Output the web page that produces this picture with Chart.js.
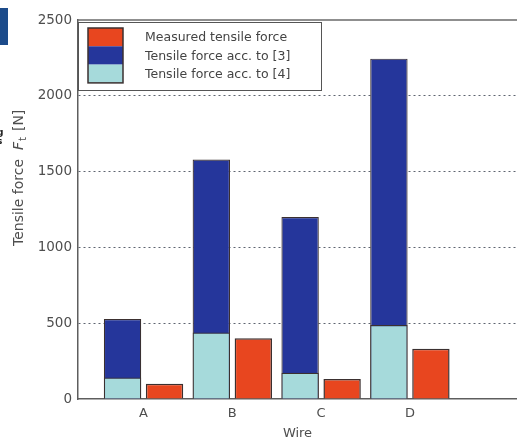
<!DOCTYPE html>
<html>
<head>
<meta charset="utf-8">
<script src="https://cdn.jsdelivr.net/npm/chart.js@4"></script>
<style>
  html, body { margin: 0; padding: 0; background: #ffffff; overflow: hidden; }
  #wrap { position: relative; width: 517px; height: 438px; }
  #tab { position: absolute; left: 0; top: 8px; width: 8px; height: 37px; background: #1c4b8a; }
  #edge { position: absolute; left: -3px; top: 128px; font: bold 9px "DejaVu Sans", sans-serif; line-height: 9px; color: #222; }
  canvas { position: absolute; left: 0; top: 0; }
</style>
</head>
<body>
<div id="wrap">
  <canvas id="c" width="517" height="438"></canvas>
  <div id="tab"></div>
  <div id="edge">g<br>s</div>
</div>
<script>
// Wires and their positions along the x axis
const wires = ['A', 'B', 'C', 'D'];
const wirePos = [1, 2, 3, 4];

// Tensile forces in N
const measured = [100, 400, 132, 332];
const accRef3 = [527, 1580, 1200, 2245];
const accRef4 = [142, 438, 173, 488];

// Y axis ticks
const yTicks = [0, 500, 1000, 1500, 2000, 2500];

const seriesNames = ['Measured tensile force', 'Tensile force acc. to [3]', 'Tensile force acc. to [4]'];
const seriesColors = ['#e8461f', '#25369b', '#a6dadb'];

const pts = vals => vals.map((v, i) => ({ x: wirePos[i], y: v }));

const FONT = '"DejaVu Sans", sans-serif';
const GREY = '#4e4e4e';
const EDGE = '#3b3030';

// Boxed legend with one merged swatch column, plus axis frame and titles
const frame = {
  id: 'frame',
  afterDatasetsDraw(chart) {
    const { ctx, chartArea: a, scales } = chart;
    const yTop = scales.y.getPixelForValue(yTicks[yTicks.length - 1]);
    ctx.save();
    // top border line
    ctx.strokeStyle = '#6a6a6a';
    ctx.lineWidth = 1.5;
    ctx.beginPath();
    ctx.moveTo(a.left, yTop);
    ctx.lineTo(a.right, yTop);
    ctx.stroke();

    // legend box
    const bx = a.left, by = yTop + 2, bw = 243, bh = 68;
    ctx.fillStyle = '#ffffff';
    ctx.fillRect(bx, by, bw, bh);
    ctx.strokeStyle = '#555';
    ctx.lineWidth = 1;
    ctx.strokeRect(bx + 0.5, by + 0.5, bw, bh);

    const sx = bx + 10, sw = 35, sh = 18.3;
    const sy = by + 6;
    chart.data.datasets.forEach((ds, i) => {
      ctx.fillStyle = ds.backgroundColor;
      ctx.fillRect(sx, sy + i * sh, sw, sh);
    });
    ctx.strokeStyle = EDGE;
    ctx.lineWidth = 1.5;
    ctx.strokeRect(sx, sy, sw, sh * 3);

    ctx.fillStyle = '#444';
    ctx.font = '12.5px ' + FONT;
    ctx.textBaseline = 'middle';
    ctx.textAlign = 'left';
    chart.data.datasets.forEach((ds, i) => {
      ctx.fillText(ds.label, bx + 67, sy + i * sh + sh / 2 + 1);
    });

    // y axis title: Tensile force F_t [N]
    ctx.save();
    ctx.translate(19, 246);
    ctx.rotate(-Math.PI / 2);
    ctx.fillStyle = GREY;
    ctx.textBaseline = 'middle';
    ctx.textAlign = 'left';
    ctx.font = '14px ' + FONT;
    let x = 0;
    const part1 = 'Tensile force  ';
    ctx.fillText(part1, x, 0); x += ctx.measureText(part1).width;
    ctx.font = 'italic 14px ' + FONT;
    ctx.fillText('F', x, 0); x += ctx.measureText('F').width;
    ctx.font = '10px ' + FONT;
    ctx.fillText('t', x + 1, 4); x += ctx.measureText('t').width + 7;
    ctx.font = '14px ' + FONT;
    ctx.fillText('[N]', x, 0);
    ctx.restore();

    // x axis title
    ctx.fillStyle = GREY;
    ctx.font = '13px ' + FONT;
    ctx.textAlign = 'center';
    ctx.textBaseline = 'top';
    ctx.fillText('Wire', (a.left + a.right) / 2, 427);
    ctx.restore();
  }
};

new Chart(document.getElementById('c'), {
  type: 'bar',
  data: {
    datasets: [
      { label: seriesNames[0], data: pts(measured), stack: 'meas', order: 2,
        backgroundColor: seriesColors[0], borderColor: EDGE, borderWidth: 1.5 },
      { label: seriesNames[1], data: pts(accRef3), stack: 'calc', order: 1,
        backgroundColor: seriesColors[1], borderColor: EDGE, borderWidth: 1.2 },
      { label: seriesNames[2], data: pts(accRef4), stack: 'calc', order: 0,
        backgroundColor: seriesColors[2], borderColor: EDGE, borderWidth: 1.2 }
    ]
  },
  options: {
    responsive: false,
    animation: false,
    events: [],
    categoryPercentage: 0.946,
    barPercentage: 0.89,
    layout: { padding: { top: 20, left: 0, right: 0, bottom: 0 } },
    plugins: { legend: { display: false }, tooltip: { enabled: false } },
    scales: {
      x: {
        type: 'linear',
        offset: false,
        stacked: true,
        min: 0.262,
        max: 5.206,
        afterFit: s => { s.height = 39; },
        afterBuildTicks: s => { s.ticks = wirePos.map(v => ({ value: v })); },
        ticks: {
          padding: 7,
          color: GREY,
          font: { family: FONT, size: 13 },
          callback: v => wires[wirePos.indexOf(v)]
        },
        grid: { display: false, drawTicks: false },
        border: { display: true, color: '#5e5e5e', width: 1.5 }
      },
      y: {
        stacked: false,
        min: 0,
        max: 2500,
        afterFit: s => { s.width = 78; },
        afterBuildTicks: s => { s.ticks = yTicks.map(v => ({ value: v })); },
        ticks: {
          padding: 6,
          color: GREY,
          font: { family: FONT, size: 13.5 },
          callback: v => String(v)
        },
        grid: {
          drawTicks: false,
          lineWidth: 1,
          color: ctx => (ctx.tick && (ctx.tick.value === 0 || ctx.tick.value === 2500)) ? 'rgba(0,0,0,0)' : '#5f6570'
        },
        border: { display: true, color: '#5e5e5e', width: 1.5, dash: [2, 3] }
      }
    }
  },
  plugins: [frame]
});
</script>
</body>
</html>
